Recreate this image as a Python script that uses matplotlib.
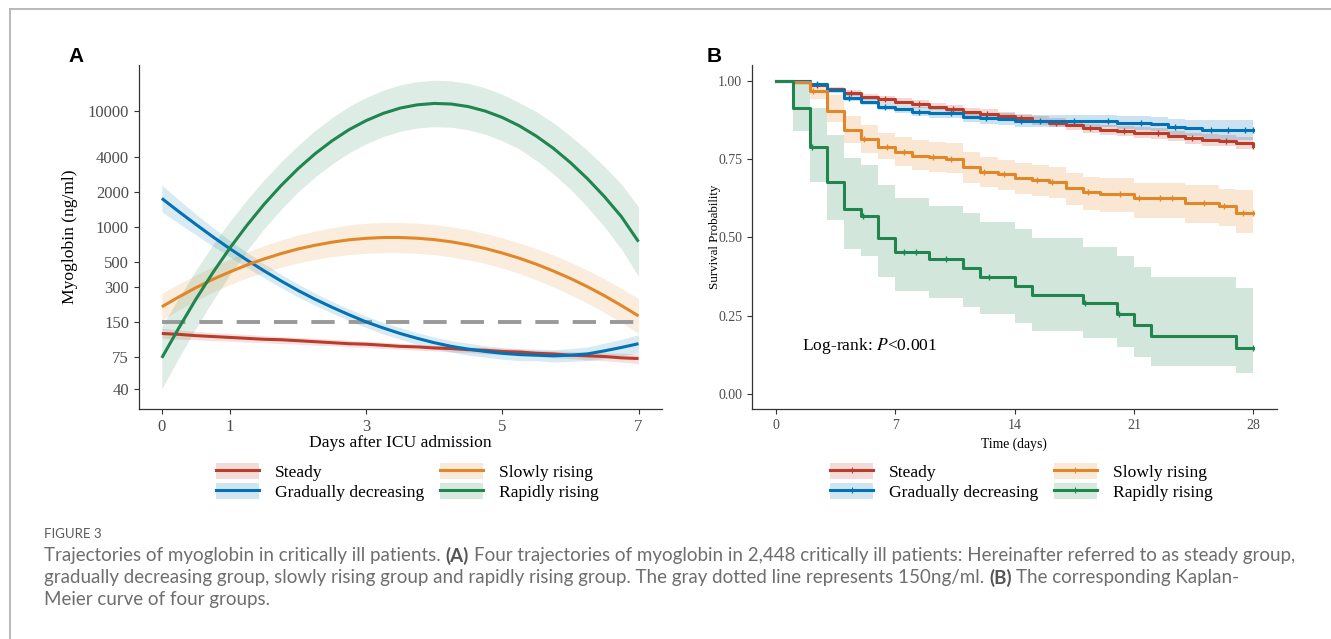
import matplotlib
matplotlib.use("Agg")
import matplotlib.pyplot as plt
import numpy as np
from matplotlib.lines import Line2D
from matplotlib.patches import Patch

plt.rcParams['font.family'] = ['Liberation Serif', 'DejaVu Serif']
plt.rcParams['mathtext.fontset'] = 'stix'

groups = ['Steady', 'Gradually decreasing', 'Slowly rising', 'Rapidly rising']
colors = ['#BC3C29', '#0072B5', '#E18727', '#20854E']

# ---- panel A: trajectories (ng/ml), read every quarter day ----
days = [0, 0.25, 0.5, 0.75, 1, 1.25, 1.5, 1.75, 2, 2.25, 2.5, 2.75, 3, 3.25, 3.5,
        3.75, 4, 4.25, 4.5, 4.75, 5, 5.25, 5.5, 5.75, 6, 6.25, 6.5, 6.75, 7]
steady = [120, 118, 115, 113, 111, 109, 107, 106, 104, 102, 100, 98, 97, 95, 93,
          92, 90, 89, 87, 86, 84, 83, 81, 80, 78, 77, 76, 74, 73]
steady_lo = [109, 107, 106, 104, 103, 101, 100, 98, 97, 95, 94, 92, 91, 89, 88,
             86, 85, 83, 82, 80, 79, 77, 76, 74, 73, 71, 70, 68, 66]
steady_hi = [133, 129, 125, 122, 120, 118, 115, 113, 111, 109, 107, 105, 103, 101, 99,
             97, 95, 94, 92, 91, 89, 88, 86, 85, 84, 83, 82, 81, 80]
decr = [1754, 1349, 1047, 818, 646, 516, 417, 341, 282, 237, 202, 174, 151, 134, 120,
        109, 100, 93, 88, 84, 81, 79, 78, 77, 78, 80, 85, 91, 98]
decr_lo = [1346, 1066, 851, 681, 550, 444, 363, 299, 248, 210, 180, 155, 135, 119, 107,
           97, 89, 83, 78, 75, 72, 70, 70, 68, 69, 70, 73, 77, 82]
decr_hi = [2285, 1706, 1288, 983, 759, 599, 479, 389, 320, 267, 227, 195, 169, 150, 135,
           122, 112, 104, 99, 94, 91, 89, 88, 87, 89, 92, 99, 107, 117]
slow = [204, 248, 298, 352, 408, 468, 527, 586, 643, 692, 736, 771, 794, 807, 807,
        796, 774, 741, 698, 649, 593, 535, 475, 415, 358, 304, 254, 209, 170]
slow_lo = [157, 192, 231, 273, 317, 362, 404, 447, 488, 523, 552, 574, 589, 598, 598,
           590, 574, 549, 517, 481, 440, 395, 348, 302, 259, 219, 182, 149, 120]
slow_hi = [266, 321, 384, 453, 526, 606, 687, 769, 847, 916, 982, 1035, 1071, 1089, 1089,
           1074, 1044, 1000, 942, 876, 800, 725, 648, 570, 494, 422, 355, 294, 240]
rapid = [74, 134, 237, 402, 656, 1028, 1556, 2259, 3162, 4256, 5508, 6871, 8222, 9484, 10544,
         11246, 11561, 11429, 10864, 9931, 8750, 7413, 6039, 4743, 3573, 2594, 1816, 1219, 743]
rapid_lo = [40, 74, 133, 231, 386, 619, 959, 1409, 1995, 2685, 3475, 4335, 5187, 5984, 6652,
            7095, 7294, 7211, 6854, 6266, 5521, 4677, 3723, 2857, 2104, 1476, 998, 640, 372]
rapid_hi = [138, 244, 421, 699, 1114, 1706, 2524, 3621, 5012, 6746, 8730, 10891, 13032, 15032, 16712,
            17825, 18324, 18115, 17219, 15741, 13869, 11750, 9795, 7873, 6067, 4560, 3305, 2322, 1482]
cutoff = 150
a_yticks = [40, 75, 150, 300, 500, 1000, 2000, 4000, 10000]
a_xticks = [0, 1, 3, 5, 7]

# ---- panel B: Kaplan-Meier ----
km_steady_t = [0, 2, 3, 4, 5, 6, 7, 8, 9, 10, 11, 12, 13, 14, 15, 16, 17, 18, 19, 20, 21, 22, 23, 24, 25, 26, 27, 28]
km_steady = [1.0, .986, .972, .96, .949, .94, .933, .926, .917, .909, .901, .894, .886, .88, .872, .866, .859, .848, .843, .838, .834, .832, .823, .816, .811, .808, .801, .793]
km_steady_lo = [1.0, .98, .964, .951, .939, .929, .922, .914, .905, .896, .888, .88, .872, .866, .858, .851, .844, .833, .827, .822, .817, .815, .806, .798, .793, .79, .783, .775]
km_steady_hi = [1.0, .992, .98, .969, .959, .951, .944, .938, .929, .922, .914, .908, .9, .894, .886, .881, .874, .863, .859, .854, .851, .849, .84, .834, .829, .826, .819, .811]

km_decr_t = [0, 2, 3, 4, 5, 6, 7, 8, 9, 11, 12, 13, 14, 20, 21, 22, 23, 24, 25, 28]
km_decr = [1.0, .988, .97, .944, .933, .917, .91, .901, .896, .885, .88, .878, .872, .866, .864, .862, .853, .848, .843, .843]
km_decr_lo = [1.0, .982, .962, .934, .922, .905, .897, .887, .881, .869, .863, .86, .853, .845, .842, .839, .828, .822, .81, .81]
km_decr_hi = [1.0, .994, .978, .954, .944, .929, .923, .915, .911, .901, .897, .896, .891, .887, .886, .885, .878, .874, .876, .876]

km_slow_t = [0, 1, 2, 3, 4, 5, 6, 7, 8, 9, 10, 11, 12, 13, 14, 15, 16, 17, 18, 19, 21, 24, 26, 27, 28]
km_slow = [1.0, .995, .968, .903, .843, .813, .789, .773, .761, .755, .749, .723, .710, .701, .688, .683, .676, .656, .644, .638, .624, .609, .601, .579, .579]
km_slow_lo = [1.0, .985, .94, .869, .80, .768, .75, .728, .715, .71, .704, .672, .662, .651, .637, .633, .624, .603, .587, .582, .563, .545, .537, .513, .513]
km_slow_hi = [1.0, 1.0, .99, .955, .887, .859, .832, .821, .81, .805, .80, .773, .757, .747, .736, .731, .723, .704, .691, .688, .672, .667, .654, .651, .651]

km_rapid_t = [0, 1, 2, 3, 4, 5, 6, 7, 9, 11, 12, 14, 15, 18, 20, 21, 22, 27, 28]
km_rapid = [1.0, .914, .787, .678, .590, .569, .497, .454, .430, .401, .374, .346, .316, .289, .255, .219, .185, .146, .146]
km_rapid_lo = [1.0, .840, .678, .555, .463, .440, .372, .330, .305, .279, .255, .228, .202, .178, .151, .119, .089, .066, .066]
km_rapid_hi = [1.0, 1.0, .914, .827, .752, .731, .667, .624, .601, .577, .550, .526, .497, .468, .440, .406, .372, .337, .337]

cens_steady = [2.4, 4.4, 6.4, 8.4, 10.4, 12.4, 14.4, 16.4, 18.4, 20.4, 22.4, 24.4, 26.4, 28]
cens_decr = [2.4, 4.3, 6.4, 8.4, 10.3, 12.3, 14.4, 15.5, 17.5, 19.5, 21.4, 23.4, 25.5, 26.5, 27.5, 28]
cens_slow = [2.2, 5.2, 6.5, 7.5, 9.2, 10.3, 12.2, 13.4, 15.3, 16.2, 18.3, 20.2, 21.3, 22.5, 23.2, 25.1, 26.3, 27.4, 28]
cens_rapid = [2.1, 5.1, 7.5, 8.2, 10.0, 12.5, 18.1, 20.1, 28]
b_xticks = [0, 7, 14, 21, 28]
b_yticks = [0, 0.25, 0.5, 0.75, 1.0]

fig = plt.figure(figsize=(13.31, 6.39), dpi=100)
W, H = 1331.0, 639.0

# figure frame
fig.add_artist(Line2D([10 / W, 10 / W], [0, 1 - 9 / H], transform=fig.transFigure, color='#b3b3b3', lw=1.3))
fig.add_artist(Line2D([10 / W, 1], [1 - 9 / H, 1 - 9 / H], transform=fig.transFigure, color='#b3b3b3', lw=1.3))

tick_col = '#4D4D4D'
spine_col = '#333333'

# ---------- A ----------
axA = fig.add_axes([138.8 / W, 1 - 409 / H, (662 - 138.8) / W, (409 - 65) / H])
axA.set_yscale('log')
lines_a = [(steady, steady_lo, steady_hi), (decr, decr_lo, decr_hi),
           (slow, slow_lo, slow_hi), (rapid, rapid_lo, rapid_hi)]
for (m, lo, hi), c in zip(lines_a, colors):
    axA.fill_between(days, lo, hi, color=c, alpha=0.15, lw=0)
axA.plot([days[0], days[-1]], [cutoff, cutoff], color='#999999', lw=2.8, dashes=(6, 3.6))
for (m, lo, hi), c in zip(lines_a, colors):
    axA.plot(days, m, color=c, lw=2.2, solid_capstyle='butt', solid_joinstyle='round')
axA.set_xlim(-0.338, 7.345)
axA.set_ylim(26.8, 24800)
axA.set_yticks(a_yticks)
axA.set_yticklabels([str(v) for v in a_yticks])
axA.yaxis.set_minor_locator(matplotlib.ticker.NullLocator())
axA.set_xticks(a_xticks)
axA.tick_params(colors=spine_col, labelcolor=tick_col, labelsize=12, length=3.5, width=0.8)
for s in ['top', 'right']:
    axA.spines[s].set_visible(False)
for s in ['left', 'bottom']:
    axA.spines[s].set_color(spine_col)
    axA.spines[s].set_linewidth(0.9)
axA.set_xlabel('Days after ICU admission', fontsize=12.6, labelpad=0)
axA.set_ylabel('Myoglobin (ng/ml)', fontsize=12.6)
axA.yaxis.set_label_coords(-0.116, 0.5)

# ---------- B ----------
axB = fig.add_axes([752 / W, 1 - 409 / H, (1276.5 - 752) / W, (409 - 65) / H])
km = [(km_steady_t, km_steady, km_steady_lo, km_steady_hi, cens_steady),
      (km_decr_t, km_decr, km_decr_lo, km_decr_hi, cens_decr),
      (km_slow_t, km_slow, km_slow_lo, km_slow_hi, cens_slow),
      (km_rapid_t, km_rapid, km_rapid_lo, km_rapid_hi, cens_rapid)]
for (t, s, lo, hi, cz), c in zip(km, colors):
    axB.fill_between(t, lo, hi, step='post', color=c, alpha=0.2, lw=0)
for (t, s, lo, hi, cz), c in zip(km, colors):
    axB.step(t, s, where='post', color=c, lw=2.2)
    idx = np.searchsorted(t, cz, side='right') - 1
    axB.plot(cz, np.array(s)[idx], ls='none', marker='|', ms=5, mew=1.0, color=c)
axB.set_xlim(-1.39, 29.35)
axB.set_ylim(-0.048, 1.05)
axB.set_xticks(b_xticks)
axB.set_yticks(b_yticks)
axB.set_yticklabels(['%.2f' % v for v in b_yticks])
axB.tick_params(colors=spine_col, labelcolor=tick_col, labelsize=10, length=3.5, width=0.8)
for s in ['top', 'right']:
    axB.spines[s].set_visible(False)
for s in ['left', 'bottom']:
    axB.spines[s].set_color(spine_col)
    axB.spines[s].set_linewidth(0.9)
axB.set_xlabel('Time (days)', fontsize=9.8, labelpad=4)
axB.set_ylabel('Survival Probability', fontsize=9.4)
axB.yaxis.set_label_coords(-0.06, 0.5)
axB.text(1.54, 0.153, r'Log-rank: $\mathit{P}$<0.001', fontsize=12.6, va='center', ha='left')

# panel letters
fig.text(68 / W, 1 - 56 / H, 'A', fontsize=15, fontweight='bold', family=['Liberation Sans', 'DejaVu Sans'], va='center')
fig.text(707 / W, 1 - 56 / H, 'B', fontsize=15, fontweight='bold', family=['Liberation Sans', 'DejaVu Sans'], va='center')

# legends
for x0, marker in [(216, None), (830, '|')]:
    handles = []
    for c in colors:
        handles.append((Patch(facecolor=c, alpha=0.18, lw=0),
                        Line2D([], [], color=c, lw=2.2, marker=marker, ms=5, mew=0.8)))
    fig.legend(handles, groups, ncol=2, loc='upper left',
               bbox_to_anchor=(x0 / W, 1 - 463 / H), frameon=False,
               fontsize=12.6, handlelength=2.46, handleheight=1.0,
               handletextpad=0.9, columnspacing=0.9, labelspacing=0.12,
               borderpad=0, borderaxespad=0,
               handler_map={tuple: matplotlib.legend_handler.HandlerTuple(ndivide=1)})

# caption
renderer = fig.canvas.get_renderer()
cap_font = ['Lato', 'DejaVu Sans']
cap_col = '#6e6e6e'


def text_w(s, size, bold):
    t = fig.text(0, 0, s, fontsize=size, family=cap_font, fontweight='bold' if bold else 'normal')
    w = t.get_window_extent(renderer).width
    t.remove()
    return w


def seg_widths(parts, size):
    sp = text_w('a a', size, False) - text_w('aa', size, False)
    total = 0
    for i, (s, b) in enumerate(parts):
        total += text_w(s, size, b)
        if i < len(parts) - 1:
            total += sp
    return total, sp


line1 = [('Trajectories of myoglobin in critically ill patients.', False), ('(A)', True),
         ('Four trajectories of myoglobin in 2,448 critically ill patients: Hereinafter referred to as steady group,', False)]
line2 = [('gradually decreasing group, slowly rising group and rapidly rising group. The gray dotted line represents 150ng/ml.', False),
         ('(B)', True), ('The corresponding Kaplan-', False)]
line3 = [('Meier curve of four groups.', False)]

w10, _ = seg_widths(line1, 10)
cap_size = 10 * (1251 / w10)


def draw_line(parts, yc):
    _, sp = seg_widths(parts, cap_size)
    x = 44.0
    for s, b in parts:
        fig.text(x / W, 1 - yc / H, s, fontsize=cap_size, family=cap_font,
                 fontweight='bold' if b else 'normal', color='#555555' if b else cap_col, va='center')
        x += text_w(s, cap_size, b) + sp


fig.text(44 / W, 1 - 534 / H, 'FIGURE 3', fontsize=9.5, family=cap_font, color='#5a5a5a', va='center')
draw_line(line1, 556)
draw_line(line2, 578)
draw_line(line3, 599)

fig.savefig('out.png', dpi=100)
